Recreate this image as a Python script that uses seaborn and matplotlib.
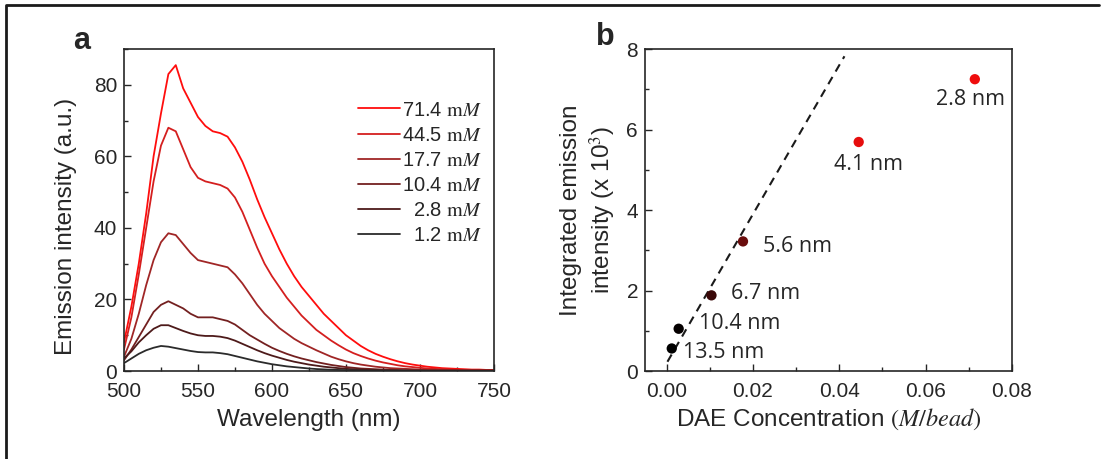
import pandas as pd
import numpy as np
import matplotlib.pyplot as plt
import seaborn as sns
from matplotlib.lines import Line2D
from matplotlib.ticker import MultipleLocator

sns.set_theme(style='ticks')
plt.rcParams['font.family'] = ['Liberation Sans', 'DejaVu Sans']
plt.rcParams['mathtext.fontset'] = 'stix'

# ---- panel a: emission spectra (5 nm steps) ----
wavelength = list(range(500, 755, 5))

spec_714 = [8, 18, 30, 44, 60, 72, 83, 85.5, 79, 75, 71, 68.5, 67, 66.5, 65.5, 62.5, 58.5, 53.5,
            48, 43, 38.5, 34, 30, 26.5, 23.5, 21, 18.5, 16, 14, 12, 10, 8.5, 7, 5.8, 4.8, 4,
            3.3, 2.7, 2.2, 1.8, 1.5, 1.2, 1.0, 0.8, 0.7, 0.6, 0.5, 0.4, 0.4, 0.3, 0.3]
spec_445 = [6, 15, 27, 40, 53, 63, 68, 67, 62, 57, 54, 53, 52.5, 52, 51, 48.5, 44.5, 39.5,
            34.5, 30, 26.5, 23.5, 20.5, 18, 15.5, 13.5, 11.5, 10, 8.5, 7.2, 6, 5, 4.2, 3.5, 2.9, 2.4,
            2.0, 1.6, 1.3, 1.1, 0.9, 0.7, 0.6, 0.5, 0.4, 0.3, 0.3, 0.2, 0.2, 0.2, 0.2]
spec_177 = [4, 9, 16, 24, 31, 36, 38.5, 38, 35.5, 33, 31, 30.5, 30, 29.5, 29, 27, 24.5, 21.5,
            18.5, 16, 14, 12, 10.5, 9, 7.8, 6.8, 5.8, 4.9, 4, 3.3, 2.7, 2.2, 1.8, 1.5, 1.2, 1.0,
            0.8, 0.7, 0.6, 0.5, 0.4, 0.3, 0.3, 0.2, 0.2, 0.2, 0.1, 0.1, 0.1, 0.1, 0.1]
spec_104 = [3, 6, 9.5, 13, 16.5, 18.5, 19.5, 18.5, 17.5, 16, 15, 15, 15, 14.5, 14, 13, 11.5, 10,
            8.8, 7.6, 6.5, 5.6, 4.8, 4.1, 3.5, 3, 2.5, 2.1, 1.7, 1.4, 1.1, 0.9, 0.7, 0.6, 0.5, 0.4,
            0.3, 0.3, 0.2, 0.2, 0.2, 0.1, 0.1, 0.1, 0.1, 0.1, 0.1, 0.1, 0.1, 0.1, 0.1]
spec_28 = [3.5, 5.5, 8, 10, 11.8, 12.8, 12.8, 12, 11.2, 10.5, 10, 9.8, 9.8, 9.6, 9.2, 8.5, 7.6, 6.7,
           5.8, 5, 4.3, 3.7, 3.1, 2.6, 2.2, 1.8, 1.5, 1.2, 1.0, 0.8, 0.6, 0.5, 0.4, 0.3, 0.3, 0.2,
           0.2, 0.1, 0.1, 0.1, 0.1, 0.1, 0.1, 0.1, 0.1, 0.1, 0.1, 0.1, 0.1, 0.1, 0.1]
spec_12 = [2.2, 3.5, 4.8, 5.8, 6.5, 7, 6.8, 6.4, 6, 5.6, 5.3, 5.2, 5.2, 5, 4.7, 4.2, 3.7, 3.2,
           2.7, 2.3, 1.9, 1.6, 1.3, 1.1, 0.9, 0.7, 0.55, 0.45, 0.35, 0.3, 0.25, 0.2, 0.15, 0.1, 0.1, 0.1,
           0.1, 0.1, 0.1, 0.05, 0.05, 0.05, 0.05, 0.05, 0.05, 0.05, 0.05, 0.05, 0.05, 0.05, 0.05]

series_labels = [r'71.4 $\mathrm{m}M$', r'44.5 $\mathrm{m}M$', r'17.7 $\mathrm{m}M$',
                 r'10.4 $\mathrm{m}M$', r'  2.8 $\mathrm{m}M$', r'  1.2 $\mathrm{m}M$']
series_values = [spec_714, spec_445, spec_177, spec_104, spec_28, spec_12]
series_colors = ['#ff0d0d', '#d41f1f', '#a02626', '#732020', '#4d1a1a', '#2b2b2b']

# ---- panel b: integrated emission vs DAE concentration ----
conc = [0.0012, 0.0028, 0.0104, 0.0177, 0.0445, 0.0714]
integrated = [0.56, 1.05, 1.88, 3.22, 5.69, 7.25]
size_labels = ['13.5 nm', '10.4 nm', '6.7 nm', '5.6 nm', '4.1 nm', '2.8 nm']
point_colors = ['#000000', '#050000', '#3a0808', '#6a0d0d', '#e60d0d', '#ef0d0d']
label_x = [0.0131, 0.0170, 0.0229, 0.0303, 0.0468, 0.0703]
label_y = [0.46, 1.17, 1.93, 3.10, 5.12, 6.75]
fit_x = [0.0002, 0.0412]
fit_y = [0.23, 7.82]

fig = plt.figure(figsize=(11.05, 4.59), dpi=100)
ax_a = fig.add_axes([0.1122, 0.1917, 0.3348, 0.7015])
ax_b = fig.add_axes([0.5837, 0.1917, 0.3321, 0.7015])

spec = pd.DataFrame({
    'wl': wavelength * len(series_labels),
    'I': np.concatenate(series_values),
    'conc': np.repeat(series_labels, len(wavelength)),
})
sns.lineplot(data=spec, x='wl', y='I', hue='conc', hue_order=series_labels,
             palette=dict(zip(series_labels, series_colors)), linewidth=1.3, ax=ax_a)
ax_a.set_xlim(500, 750)
ax_a.set_ylim(0, 90)
ax_a.xaxis.set_major_locator(MultipleLocator(50))
ax_a.xaxis.set_minor_locator(MultipleLocator(25))
ax_a.yaxis.set_major_locator(MultipleLocator(20))
ax_a.yaxis.set_minor_locator(MultipleLocator(10))
ax_a.set_xlabel('Wavelength (nm)', fontsize=17.5, labelpad=6)
ax_a.set_ylabel('Emission intensity (a.u.)', fontsize=17.5)
ax_a.yaxis.set_label_coords(-0.128, 0.45)
leg = ax_a.legend(loc='upper right', bbox_to_anchor=(0.99, 0.865), frameon=False, fontsize=14.5,
                  handlelength=2.1, handletextpad=0.1, labelspacing=0.3, borderaxespad=0)

b_points = pd.DataFrame({'x': conc, 'y': integrated, 'lab': size_labels})
sns.lineplot(x=fit_x, y=fit_y, color='k', linestyle=(0, (4, 3)), linewidth=1.5, ax=ax_b)
sns.scatterplot(data=b_points, x='x', y='y', hue='lab', palette=dict(zip(size_labels, point_colors)),
                s=55, edgecolor='none', legend=False, ax=ax_b, zorder=3)
for lx, ly, t in zip(label_x, label_y, size_labels):
    ax_b.text(lx, ly, t, ha='center', va='center', fontsize=15.5, family=['Open Sans', 'DejaVu Sans'])
ax_b.set_xlim(-0.005, 0.08)
ax_b.set_ylim(0, 8)
ax_b.xaxis.set_major_locator(MultipleLocator(0.02))
ax_b.xaxis.set_minor_locator(MultipleLocator(0.01))
ax_b.yaxis.set_major_locator(MultipleLocator(2))
ax_b.yaxis.set_minor_locator(MultipleLocator(1))
ax_b.xaxis.set_major_formatter(plt.FormatStrFormatter('%.2f'))
ax_b.set_xlabel(r'DAE Concentration $\left(M/bead\right)$', fontsize=17.5, labelpad=4)
ax_b.set_ylabel('Integrated emission\nintensity (x 10$^3$)', fontsize=17.5, labelpad=6,
                linespacing=1.25)

for ax in (ax_a, ax_b):
    ax.tick_params(which='both', direction='in', top=False, right=False, width=1.0)
    ax.tick_params(which='major', length=5, labelsize=15, pad=5)
    ax.tick_params(axis='x', which='major', pad=8)
    ax.tick_params(which='minor', length=3)
    for sp in ax.spines.values():
        sp.set_visible(True)
        sp.set_linewidth(1.2)

fig.text(82 / 1105, 1 - 41 / 459, 'a', fontsize=22, fontweight='bold', ha='center', va='center')
fig.text(605 / 1105, 1 - 37 / 459, 'b', fontsize=22, fontweight='bold', ha='center', va='center')

fig.add_artist(Line2D([6 / 1105, 6 / 1105, 1099 / 1105], [0.0, 1 - 5 / 459, 1 - 5 / 459],
                      transform=fig.transFigure, color='k', linewidth=2))

plt.savefig('out.png', dpi=100)
